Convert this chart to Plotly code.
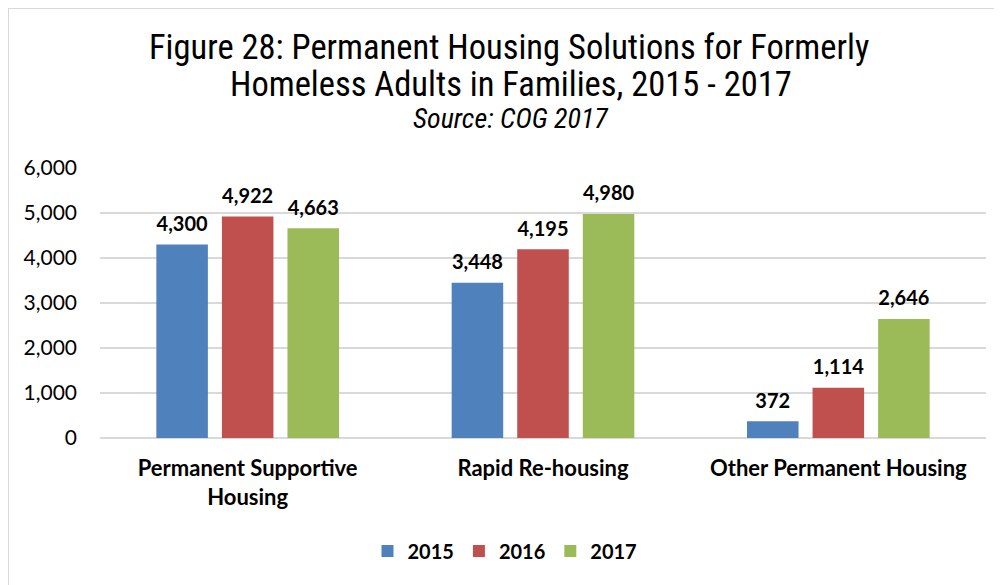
import plotly.graph_objects as go

categories = ["Permanent Supportive<br>Housing", "Rapid Re-housing", "Other Permanent Housing"]
years = ["2015", "2016", "2017"]
values_2015 = [4300, 3448, 372]
values_2016 = [4922, 4195, 1114]
values_2017 = [4663, 4980, 2646]
colors = ["#4F81BD", "#C0504D", "#9BBB59"]
tick_vals = [0, 1000, 2000, 3000, 4000, 5000, 6000]
tick_text = ["0", "1,000", "2,000", "3,000", "4,000", "5,000", "6,000"]
title_line1 = "Figure 28: Permanent Housing Solutions for Formerly"
title_line2 = "Homeless Adults in Families, 2015 - 2017"
subtitle = "Source: COG 2017"

series = [values_2015, values_2016, values_2017]

font_main = "Lato, 'Open Sans', Arial, sans-serif"
font_title = "'Liberation Sans Narrow', 'Roboto Condensed', 'DejaVu Sans Condensed', sans-serif"

W, H = 994, 577
L, R, T, B = 92, 16, 160, 147
PW, PH = W - L - R, H - T - B


def py(fig_y):
    return (H - fig_y - B) / PH


def px(fig_x):
    return (fig_x - L) / PW


fig = go.Figure()
for yr, vals, col in zip(years, series, colors):
    fig.add_trace(go.Bar(
        x=categories, y=vals, name=yr,
        marker=dict(color=col, line=dict(width=0)),
        offsetgroup=yr,
    ))
for yr, vals in zip(years, series):
    fig.add_trace(go.Scatter(
        x=categories, y=vals, mode="markers+text", showlegend=False,
        offsetgroup=yr, hoverinfo="skip",
        marker=dict(size=12, opacity=0),
        text=[f"{v:,}" for v in vals],
        textposition="top center",
        textfont=dict(family=font_main, size=20, color="#000000", weight="bold"),
        cliponaxis=False,
    ))

fig.update_layout(
    width=W, height=H,
    margin=dict(l=L, r=R, t=T, b=B, autoexpand=False),
    paper_bgcolor="white", plot_bgcolor="white",
    barmode="group", bargap=0.334, bargroupgap=0.214,
    scattermode="group", scattergap=0.334,
    showlegend=True,
    legend=dict(orientation="h", x=px(497), xanchor="center", y=py(543), yanchor="middle",
                font=dict(family=font_main, size=20, color="#000000", weight="bold"),
                itemwidth=30, traceorder="normal"),
)

fig.update_yaxes(range=[0, 6000], tickvals=tick_vals, ticktext=tick_text, automargin=False,
                 showgrid=True, gridcolor="#D9D9D9", gridwidth=2,
                 zeroline=True, zerolinecolor="#D9D9D9", zerolinewidth=2,
                 showline=False, ticks="", ticklabelstandoff=22,
                 tickfont=dict(family=font_main, size=21, color="#000000"))
fig.update_xaxes(showline=False, ticks="", showgrid=False, automargin=False,
                 ticklabelstandoff=15,
                 tickfont=dict(family=font_main, size=22, color="#000000", weight="bold"))

fig.add_annotation(xref="paper", yref="paper", x=px(501), y=py(39),
                   xanchor="center", yanchor="middle", showarrow=False,
                   text=title_line1, font=dict(family=font_title, size=34.5, color="#000000"))
fig.add_annotation(xref="paper", yref="paper", x=px(503), y=py(76),
                   xanchor="center", yanchor="middle", showarrow=False,
                   text=title_line2, font=dict(family=font_title, size=34.5, color="#000000"))
fig.add_annotation(xref="paper", yref="paper", x=px(503), y=py(110),
                   xanchor="center", yanchor="middle", showarrow=False,
                   text=f"<i>{subtitle}</i>", font=dict(family=font_title, size=28, color="#000000"))

fig.add_shape(type="rect", xref="paper", yref="paper",
              x0=px(0), x1=px(W + 20), y0=py(H + 20), y1=py(0),
              line=dict(color="#D9D9D9", width=2), fillcolor="rgba(0,0,0,0)", layer="below")

fig.write_html("out.html")
